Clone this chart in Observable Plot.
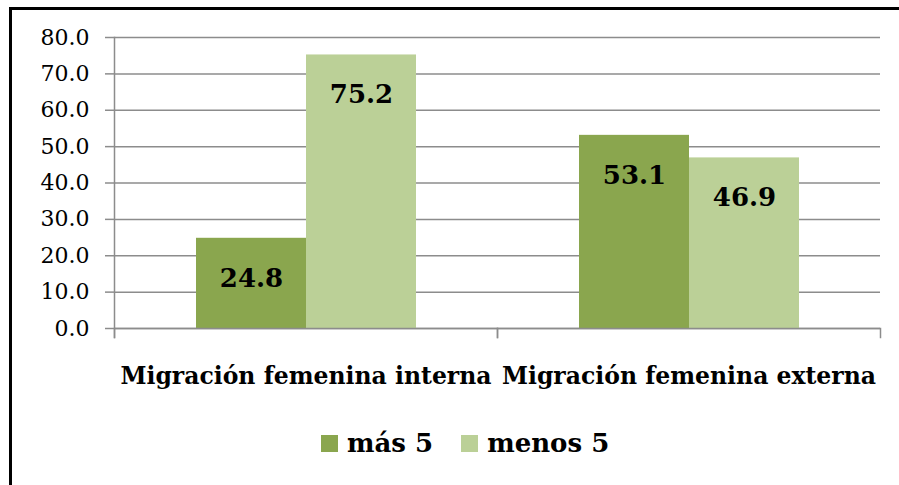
<!DOCTYPE html>
<html>
<head>
<meta charset="utf-8">
<script src="https://cdn.jsdelivr.net/npm/d3@7"></script>
<script src="https://cdn.jsdelivr.net/npm/@observablehq/plot@0.6"></script>
<style>
  html, body { margin: 0; padding: 0; background: #fff; }
  #wrap { position: relative; width: 899px; height: 485px; overflow: hidden; background: #fff; }
  #border { position: absolute; left: 9px; top: 7px; width: 1000px; height: 1000px;
            border-top: 3px solid #000; border-left: 3px solid #000; box-sizing: border-box; }
  #chart { position: absolute; left: 0; top: 0; }
  #legend { position: absolute; left: 321px; top: 428px; display: flex; align-items: center;
            font-family: "DejaVu Serif", serif; font-weight: bold; font-size: 26px; color: #000; }
  .item { display: flex; align-items: center; }
  .sw { width: 17px; height: 17px; margin-right: 9px; }
</style>
</head>
<body>
<div id="wrap">
  <div id="border"></div>
  <div id="chart"></div>
  <div id="legend"></div>
</div>
<script>
const categories = ["Migración femenina interna", "Migración femenina externa"];
const series = ["más 5", "menos 5"];
const masValues = [24.8, 53.1];
const menosValues = [75.2, 46.9];
const yTicks = [0, 10, 20, 30, 40, 50, 60, 70, 80];
const seriesColors = ["#8aa64e", "#bbd097"];

const data = categories.flatMap((c, i) => [
  {cat: c, serie: series[0], value: masValues[i]},
  {cat: c, serie: series[1], value: menosValues[i]}
]);

const gray = "#8c8c8c";
const chart = Plot.plot({
  width: 899,
  height: 400,
  marginLeft: 114,
  marginRight: 19,
  marginTop: 37,
  marginBottom: 63,
  style: {fontFamily: "DejaVu Serif, serif", fontSize: "20px", color: "#000", background: "transparent"},
  fx: {domain: categories, padding: 0, label: null},
  x: {domain: series, paddingInner: 0, paddingOuter: 0.74, axis: null},
  y: {domain: [0, 80], range: [328, 37], label: null},
  color: {domain: series, range: seriesColors},
  marks: [
    Plot.gridY(yTicks, {stroke: gray, strokeOpacity: 1, strokeWidth: 1.5}),
    Plot.axisY({ticks: yTicks, tickFormat: d => d.toFixed(1), tickSize: 9, tickPadding: 16,
                stroke: gray, strokeOpacity: 1, strokeWidth: 1.5, fontSize: 22, label: null}),
    Plot.frame({anchor: "left", facet: "super", stroke: gray, strokeWidth: 1.5}),
    Plot.frame({anchor: "left", insetTop: 291, stroke: gray, strokeWidth: 1.5}),
    Plot.frame({anchor: "right", insetTop: 291, stroke: gray, strokeWidth: 1.5}),
    Plot.barY(data, {fx: "cat", x: "serie", y: "value", fill: "serie"}),
    Plot.ruleY([0], {stroke: gray, strokeWidth: 1.5}),
    Plot.text(data, {fx: "cat", x: "serie", y: "value", text: d => d.value.toFixed(1),
                     dy: 40, fontSize: 26, fontWeight: "bold", fill: "#000"}),
    Plot.axisFx({anchor: "bottom", tickSize: 0, tickPadding: 30, fontSize: 23.5,
                 fontWeight: "bold", label: null})
  ]
});
document.getElementById("chart").appendChild(chart);

const legend = document.getElementById("legend");
series.forEach((s, i) => {
  const item = document.createElement("div");
  item.className = "item";
  if (i > 0) item.style.marginLeft = "28px";
  const sw = document.createElement("div");
  sw.className = "sw";
  sw.style.background = seriesColors[i];
  const t = document.createElement("span");
  t.textContent = s;
  item.appendChild(sw);
  item.appendChild(t);
  legend.appendChild(item);
});
</script>
</body>
</html>
